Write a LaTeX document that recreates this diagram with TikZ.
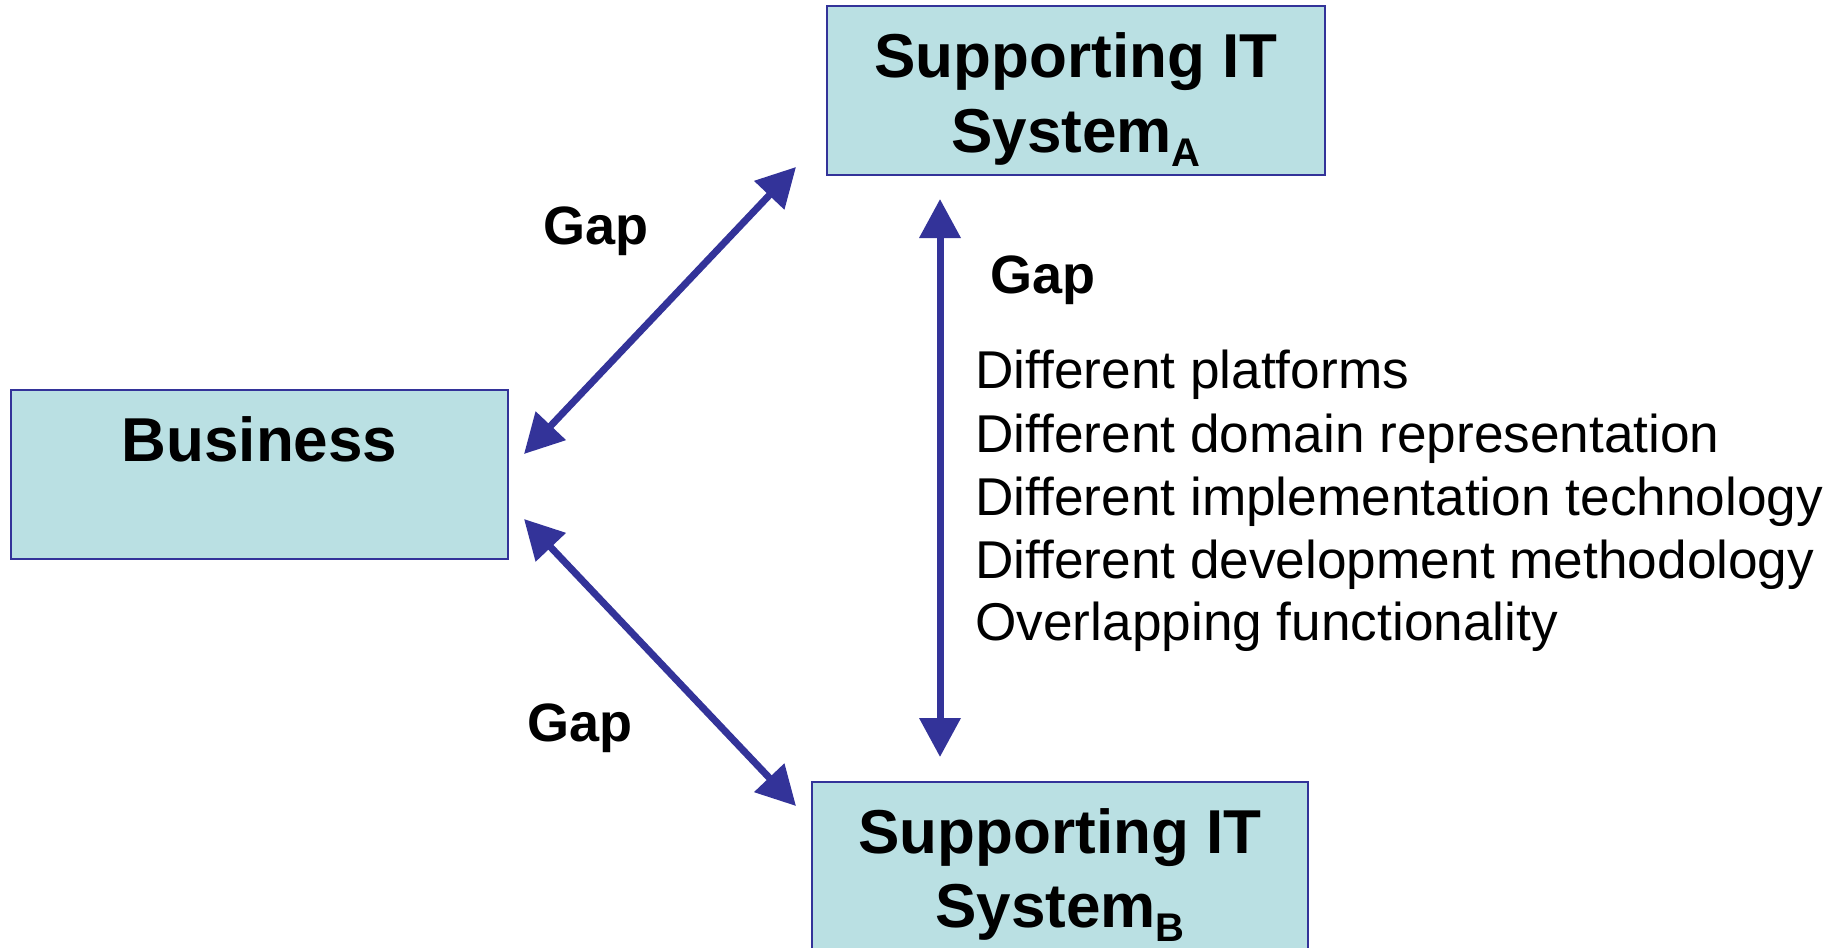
\documentclass[tikz,border=0pt]{standalone}
\usepackage{fontspec}
\setmainfont{Liberation Sans}
\usetikzlibrary{arrows.meta,calc}
\definecolor{boxfill}{RGB}{186,224,227}
\definecolor{navy}{RGB}{51,51,153}
\begin{document}
\begin{tikzpicture}[x=0.5pt,y=-0.5pt,
 box/.style={draw=navy,line width=1pt,fill=boxfill,minimum height=84.5pt,inner sep=0pt,outer sep=0pt},
 title/.style={font=\fontsize{31pt}{37pt}\selectfont\bfseries,anchor=base,inner sep=0pt},
 gaplabel/.style={font=\fontsize{27pt}{33pt}\selectfont\bfseries,anchor=base west,inner sep=0pt},
 item/.style={font=\fontsize{26.6pt}{31.5pt}\selectfont,anchor=base west,inner sep=0pt},
 tipshape/.tip={Triangle[length=19.5pt,width=20pt]},
 gaparrow/.style={draw=navy,line width=3.5pt,tipshape-tipshape}]
\useasboundingbox (0,0) rectangle (1845,947);
\clip (0,0) rectangle (1845,947);
% boxes
\node[box,minimum width=249pt] (sysA) at (1076,90.5) {};
\node[box,minimum width=248.5pt] (bus) at (259.5,474.5) {};
\node[box,minimum width=248pt] (sysB) at (1060,866.5) {};
% box texts
\node[title] (sysAa) at (1076,78) {Supporting IT};
\node[title] (sysAb) at (1076,152) {System\raisebox{-7pt}{\fontsize{20pt}{20pt}\selectfont A}};
\node[title] (busa) at (259.5,461) {Business};
\node[title] (sysBa) at (1060,853) {Supporting IT};
\node[title] (sysBb) at (1060,927) {System\raisebox{-7pt}{\fontsize{20pt}{20pt}\selectfont B}};
% connectors
\draw[gaparrow] ($(bus.east)+(16,-20.5)$) -- ($(sysA.south west)+(-31,-8)$);
\draw[gaparrow] ($(bus.east)+(16,44.5)$) -- ($(sysB.north west)+(-16,24)$);
\draw[gaparrow] ($(sysA.south west)+(113,24)$) -- ($(sysB.north west)+(128,-25)$);
% gap labels
\node[gaplabel] (gap1) at (543,244) {Gap};
\node[gaplabel] (gap2) at (990,293) {Gap};
\node[gaplabel] (gap3) at (527,741) {Gap};
% list
\node[item] (it1) at (975,388) {Different platforms};
\node[item] (it2) at (975,452) {Different domain representation};
\node[item] (it3) at (975,515) {Different implementation technology};
\node[item] (it4) at (975,578) {Different development methodology};
\node[item] (it5) at (975,640) {Overlapping functionality};
\end{tikzpicture}
\end{document}
